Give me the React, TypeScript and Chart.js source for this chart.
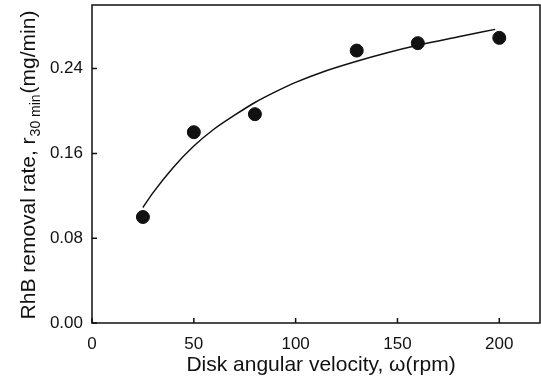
import React, { useEffect, useRef } from "react";
import { Chart, registerables } from "chart.js";

Chart.register(...registerables);

// Measured data points
const omega = [25, 50, 80, 130, 160, 200];
const rate = [0.1, 0.18, 0.197, 0.257, 0.264, 0.269];

// Fitted curve
const fitOmega = [25, 30, 40, 50, 60, 70, 80, 90, 100, 115, 130, 145, 160, 180, 198];
const fitRate = [0.109, 0.123, 0.147, 0.167, 0.183, 0.196, 0.208, 0.218, 0.227, 0.238, 0.247, 0.255, 0.262, 0.27, 0.277];

const xTicks = [0, 50, 100, 150, 200];
const yTicks = [0, 0.08, 0.16, 0.24];
const xTickLabels = ["0", "50", "100", "150", "200"];
const yTickLabels = ["0.00", "0.08", "0.16", "0.24"];

const xTitle = "Disk angular velocity, \u03c9(rpm)";
const yTitleMain = "RhB removal rate, r";
const yTitleSub = "30 min";
const yTitleTail = "(mg/min)";

const FONT = "'Liberation Sans', Arial, sans-serif";
const INK = "#111";

const decorPlugin = {
  id: "decor",
  afterDraw(chart: any) {
    const { ctx, chartArea, scales } = chart;
    const { left, right, top, bottom } = chartArea;
    ctx.save();
    ctx.strokeStyle = INK;
    ctx.lineWidth = 1.5;
    ctx.strokeRect(left, top, right - left, bottom - top);
    // inward ticks
    ctx.beginPath();
    xTicks.forEach((v) => {
      const px = scales.x.getPixelForValue(v);
      ctx.moveTo(px, bottom);
      ctx.lineTo(px, bottom - 5);
    });
    yTicks.forEach((v) => {
      const py = scales.y.getPixelForValue(v);
      ctx.moveTo(left, py);
      ctx.lineTo(left + 5, py);
    });
    ctx.stroke();

    // tick labels
    ctx.fillStyle = INK;
    ctx.font = `17px ${FONT}`;
    ctx.textBaseline = "middle";
    ctx.textAlign = "center";
    xTicks.forEach((v, i) => {
      ctx.fillText(xTickLabels[i], scales.x.getPixelForValue(v), bottom + 21);
    });
    ctx.textAlign = "right";
    yTicks.forEach((v, i) => {
      ctx.fillText(yTickLabels[i], left - 9, scales.y.getPixelForValue(v));
    });

    // x title
    ctx.font = `21px ${FONT}`;
    ctx.textAlign = "center";
    ctx.textBaseline = "alphabetic";
    ctx.fillText(xTitle, 321, 371);

    // y title with subscript
    const mainFont = `21px ${FONT}`;
    const subFont = `14px ${FONT}`;
    ctx.font = mainFont;
    const w1 = ctx.measureText(yTitleMain).width;
    const w3 = ctx.measureText(yTitleTail).width;
    ctx.font = subFont;
    const w2 = ctx.measureText(yTitleSub).width + 2;
    const total = w1 + w2 + w3;
    ctx.translate(0, 165);
    ctx.rotate(-Math.PI / 2);
    ctx.textAlign = "left";
    let x0 = -total / 2;
    ctx.font = mainFont;
    ctx.fillText(yTitleMain, x0, 35);
    x0 += w1 + 1;
    ctx.font = subFont;
    ctx.fillText(yTitleSub, x0, 40);
    x0 += w2 - 1;
    ctx.font = mainFont;
    ctx.fillText(yTitleTail, x0, 35);
    ctx.restore();
  },
};

export default function App() {
  const ref = useRef<HTMLCanvasElement | null>(null);
  useEffect(() => {
    if (!ref.current) return;
    const chart = new Chart(ref.current, {
      type: "scatter",
      data: {
        datasets: [
          {
            label: "fit",
            data: fitOmega.map((x, i) => ({ x, y: fitRate[i] })),
            showLine: true,
            borderColor: INK,
            borderWidth: 1.5,
            pointRadius: 0,
            tension: 0.4,
            cubicInterpolationMode: "monotone",
          },
          {
            label: "data",
            data: omega.map((x, i) => ({ x, y: rate[i] })),
            showLine: false,
            pointRadius: 6.5,
            pointBackgroundColor: INK,
            pointBorderColor: INK,
          },
        ],
      } as any,
      options: {
        responsive: false,
        animation: false,
        layout: { autoPadding: false, padding: { top: 5, right: 1, left: 0, bottom: 0 } },
        plugins: { legend: { display: false }, tooltip: { enabled: false } },
        scales: {
          x: {
            type: "linear",
            min: 0,
            max: 220,
            afterBuildTicks: (s: any) => {
              s.ticks = xTicks.map((v) => ({ value: v }));
            },
            afterFit: (s: any) => {
              s.height = 62;
            },
            grid: { display: false, drawTicks: false },
            border: { display: false },
            ticks: { display: false },
          },
          y: {
            type: "linear",
            min: 0,
            max: 0.3,
            afterBuildTicks: (s: any) => {
              s.ticks = yTicks.map((v) => ({ value: v }));
            },
            afterFit: (s: any) => {
              s.width = 92;
            },
            grid: { display: false, drawTicks: false },
            border: { display: false },
            ticks: { display: false },
          },
        },
      },
      plugins: [decorPlugin],
    });
    return () => chart.destroy();
  }, []);
  return (
    <div style={{ position: "fixed", left: 0, top: 0, width: 541, height: 385, background: "#fff" }}>
      <canvas ref={ref} width={541} height={385} style={{ width: 541, height: 385 }} />
    </div>
  );
}
